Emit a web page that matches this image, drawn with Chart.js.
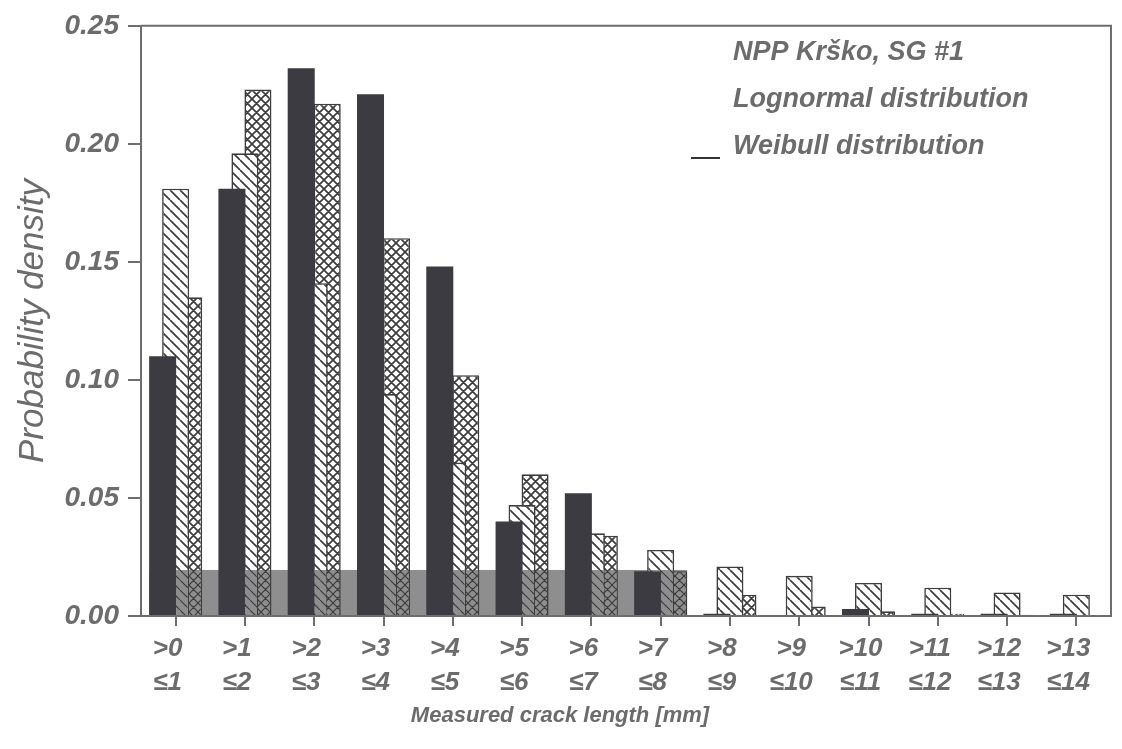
<!DOCTYPE html>
<html>
<head>
<meta charset="utf-8">
<title>Crack length distribution</title>
<style>
  html, body { margin: 0; padding: 0; background: #ffffff; }
  #wrap { width: 1122px; height: 749px; }
</style>
<script src="https://cdn.jsdelivr.net/npm/chart.js@4.4.1/dist/chart.umd.min.js"></script>
</head>
<body>
<div id="wrap"><canvas id="chart" width="1122" height="749"></canvas></div>
<script>
// Crack length bins (mm)
const binLabelsTop = ['>0', '>1', '>2', '>3', '>4', '>5', '>6', '>7', '>8', '>9', '>10', '>11', '>12', '>13'];
const binLabelsBottom = ['≤1', '≤2', '≤3', '≤4', '≤5', '≤6', '≤7', '≤8', '≤9', '≤10', '≤11', '≤12', '≤13', '≤14'];

// Probability density per bin
const measured  = [0.110, 0.181, 0.232, 0.221, 0.148, 0.040, 0.052, 0.019, 0.001, 0.000, 0.003, 0.001, 0.001, 0.001];
const lognormal = [0.181, 0.196, 0.141, 0.094, 0.065, 0.047, 0.035, 0.028, 0.021, 0.017, 0.014, 0.012, 0.010, 0.009];
const weibull   = [0.135, 0.223, 0.217, 0.160, 0.102, 0.060, 0.034, 0.019, 0.009, 0.004, 0.002, 0.001, 0.0005, 0.0003];

const seriesNames = ['NPP Krško, SG #1', 'Lognormal distribution', 'Weibull distribution'];
const yTicks = [0, 0.05, 0.10, 0.15, 0.20, 0.25];
const yTickLabels = ['0.00', '0.05', '0.10', '0.15', '0.20', '0.25'];
const yTitle = 'Probability density';
const xTitle = 'Measured crack length [mm]';

// Styling
const INK = '#6e6e6e';
const TEXT = '#6c6c6c';
const DARK = '#3b3b41';
const HATCH_INK = '#3d3d3d';
const SANS = '"Liberation Sans", Arial, sans-serif';

function makeHatch(cross) {
  const s = cross ? 9 : 10;
  const c = document.createElement('canvas');
  c.width = s; c.height = s;
  const g = c.getContext('2d');
  g.fillStyle = '#ffffff';
  g.fillRect(0, 0, s, s);
  g.strokeStyle = HATCH_INK;
  g.lineWidth = 1.7;
  g.beginPath();
  for (const k of [-s, 0, s]) {
    g.moveTo(k, 0); g.lineTo(k + s, s);          // "\" strokes
    if (cross) { g.moveTo(k, s); g.lineTo(k + s, 0); } // "/" strokes
  }
  g.stroke();
  return g.createPattern(c, 'repeat');
}

const ctx = document.getElementById('chart').getContext('2d');
const diagPattern = makeHatch(false);
const crossPattern = makeHatch(true);

// Frame, shaded low band, legend and axis titles
const decorations = {
  id: 'decorations',
  afterDatasetsDraw(chart) {
    const { ctx: g, scales: { y } } = chart;
    const first = chart.getDatasetMeta(0).data[0];
    const last = chart.getDatasetMeta(2).data[7];
    if (!first || !last) return;
    const x0 = first.x - first.width / 2;
    const x1 = last.x + last.width / 2;
    const yTop = y.getPixelForValue(0.0195);
    const yBot = y.getPixelForValue(0);
    g.save();
    g.globalCompositeOperation = 'darken';
    g.fillStyle = '#8e8e8e';
    g.fillRect(x0, yTop, x1 - x0, yBot - yTop);
    g.restore();
  },
  afterDraw(chart) {
    const { ctx: g, chartArea: a } = chart;
    g.save();
    // top and right edges of the plot box
    g.strokeStyle = INK;
    g.lineWidth = 2;
    g.beginPath();
    g.moveTo(a.left, a.top);
    g.lineTo(a.right, a.top);
    g.lineTo(a.right, a.bottom);
    g.stroke();

    // legend
    g.fillStyle = TEXT;
    g.font = 'italic bold 27px ' + SANS;
    g.textAlign = 'left';
    g.textBaseline = 'middle';
    const ly = [53, 100, 147];
    seriesNames.forEach((name, i) => g.fillText(name, 733, ly[i]));
    g.strokeStyle = '#333333';
    g.lineWidth = 2;
    g.beginPath();
    g.moveTo(691, 158);
    g.lineTo(720, 158);
    g.stroke();

    // axis titles
    g.font = 'italic bold 22px ' + SANS;
    g.textAlign = 'center';
    g.fillText(xTitle, 560, 716);
    g.translate(33, 321);
    g.rotate(-Math.PI / 2);
    g.font = 'italic 35px ' + SANS;
    g.fillText(yTitle, 0, 0);
    g.restore();
  }
};

new Chart(ctx, {
  type: 'bar',
  data: {
    labels: binLabelsTop.map((t, i) => [t, binLabelsBottom[i]]),
    datasets: [
      { label: seriesNames[0], data: measured, backgroundColor: DARK, borderColor: DARK, borderWidth: 0 },
      { label: seriesNames[1], data: lognormal, backgroundColor: diagPattern, borderColor: HATCH_INK, borderWidth: 1.6 },
      { label: seriesNames[2], data: weibull, backgroundColor: crossPattern, borderColor: HATCH_INK, borderWidth: 1.6 }
    ]
  },
  options: {
    responsive: false,
    animation: false,
    devicePixelRatio: 1,
    categoryPercentage: 0.5627,
    barPercentage: 2.08,
    layout: { padding: { left: 0, right: 11, top: 20, bottom: 0 } },
    plugins: { legend: { display: false }, tooltip: { enabled: false } },
    scales: {
      x: {
        type: 'category',
        offset: true,
        grid: { display: true, drawOnChartArea: false, offset: false, tickLength: 10, color: INK, lineWidth: 2 },
        border: { display: true, color: INK, width: 2 },
        ticks: {
          font: { family: SANS, size: 26, style: 'italic', weight: 'bold', lineHeight: 1.3 },
          color: TEXT, padding: 6, labelOffset: -8, maxRotation: 0, autoSkip: false
        },
        afterFit(s) { s.height = 133; }
      },
      y: {
        min: 0, max: 0.25,
        afterBuildTicks(s) { s.ticks = yTicks.map(v => ({ value: v })); },
        grid: { display: true, drawOnChartArea: false, tickLength: 13, color: INK, lineWidth: 2 },
        border: { display: true, color: INK, width: 2 },
        ticks: {
          callback: (v, i) => yTickLabels[i],
          font: { family: SANS, size: 28, style: 'italic', weight: 'bold' },
          color: TEXT, padding: 9
        },
        afterFit(s) { s.width = 141; }
      }
    }
  },
  plugins: [decorations]
});
</script>
</body>
</html>
